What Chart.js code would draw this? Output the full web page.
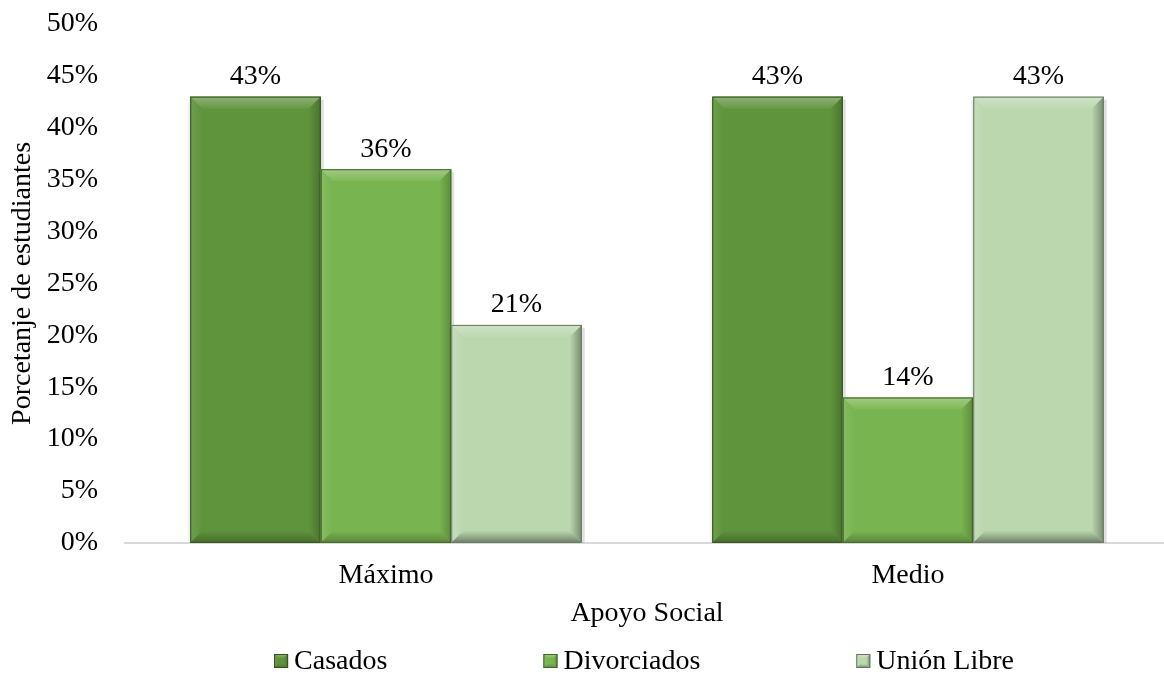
<!DOCTYPE html>
<html>
<head>
<meta charset="utf-8">
<script src="https://cdn.jsdelivr.net/npm/chart.js@4.4.1/dist/chart.umd.min.js"></script>
<style>
  html, body { margin: 0; padding: 0; background: #fff; overflow: hidden; }
  #wrap { width: 1169px; height: 682px; }
</style>
</head>
<body>
<div id="wrap"><canvas id="chart"></canvas></div>
<script>
  const categories = ["Máximo", "Medio"];
  const casados = [43, 43];
  const divorciados = [36, 14];
  const unionLibre = [21, 43];
  const seriesNames = ["Casados", "Divorciados", "Unión Libre"];
  const yTicks = { min: 0, max: 50, step: 5 };

  const colors = ["#5f933c", "#78b44f", "#bad7ae"];
  const font = "'Liberation Serif', 'Times New Roman', serif";
  const fontSize = 28;

  // amount > 0 lighter, < 0 darker
  function shade(hex, amount) {
    const n = parseInt(hex.slice(1), 16);
    let r = (n >> 16) & 255, g = (n >> 8) & 255, b = n & 255;
    const t = amount < 0 ? 0 : 255;
    const p = Math.abs(amount);
    r = Math.round(r + (t - r) * p);
    g = Math.round(g + (t - g) * p);
    b = Math.round(b + (t - b) * p);
    return `rgb(${r},${g},${b})`;
  }

  function strip(ctx, pts, x0, y0, x1, y1, c0, c1) {
    const g = ctx.createLinearGradient(x0, y0, x1, y1);
    g.addColorStop(0, c0);
    g.addColorStop(1, c1);
    ctx.fillStyle = g;
    ctx.beginPath();
    ctx.moveTo(pts[0], pts[1]);
    for (let i = 2; i < pts.length; i += 2) ctx.lineTo(pts[i], pts[i + 1]);
    ctx.closePath();
    ctx.fill();
  }

  function bevelRect(ctx, l, t, r, bt, base, s, strong) {
    const k = strong ? 1.6 : 1;
    s = Math.min(s, (r - l) / 2, (bt - t) / 2);
    ctx.save();
    ctx.fillStyle = base;
    ctx.fillRect(l, t, r - l, bt - t);
    // top
    strip(ctx, [l, t, r, t, r - s, t + s, l + s, t + s], 0, t, 0, t + s,
      shade(base, 0.3), shade(base, 0.05));
    // left
    strip(ctx, [l, t, l + s, t + s, l + s, bt - s, l, bt], l, 0, l + s, 0,
      shade(base, 0.1 * k), base);
    // right
    strip(ctx, [r, t, r, bt, r - s, bt - s, r - s, t + s], r - s, 0, r, 0,
      base, shade(base, -0.22 * k));
    // bottom
    strip(ctx, [l, bt, r, bt, r - s, bt - s, l + s, bt - s], 0, bt - s, 0, bt,
      base, shade(base, -0.25 * k));
    ctx.strokeStyle = shade(base, -0.45);
    ctx.lineWidth = 1;
    ctx.strokeRect(l + 0.5, t + 0.5, r - l - 1, bt - t - 1);
    ctx.restore();
  }

  const bevelPlugin = {
    id: "bevel",
    afterDatasetsDraw(chart) {
      const ctx = chart.ctx;
      chart.data.datasets.forEach((ds, di) => {
        chart.getDatasetMeta(di).data.forEach((bar) => {
          const { x, y, base, width } = bar.getProps(["x", "y", "base", "width"], true);
          // soft shadow round the bar
          ctx.save();
          ctx.fillStyle = "rgba(0,0,0,0.12)";
          ctx.fillRect(x + width / 2, y + 3, 3, base - y - 3);
          ctx.fillStyle = "rgba(0,0,0,0.06)";
          ctx.fillRect(x - width / 2 - 2, y + 3, 2, base - y - 3);
          ctx.restore();
          bevelRect(ctx, x - width / 2, y, x + width / 2, base, ds.backgroundColor, 12, di === 2);
        });
      });
    }
  };

  const valueLabels = {
    id: "valueLabels",
    afterDatasetsDraw(chart) {
      const ctx = chart.ctx;
      ctx.save();
      ctx.font = `${fontSize}px ${font}`;
      ctx.fillStyle = "#000";
      ctx.textAlign = "center";
      ctx.textBaseline = "bottom";
      chart.data.datasets.forEach((ds, di) => {
        chart.getDatasetMeta(di).data.forEach((bar, i) => {
          ctx.fillText(ds.data[i] + "%", bar.x, bar.y - 6);
        });
      });
      ctx.restore();
    }
  };

  // legend drawn by hand so the item gap can be wide without a tall legend box
  const legendPlugin = {
    id: "wideLegend",
    afterDraw(chart) {
      const ctx = chart.ctx;
      const box = 14, textGap = 6, itemGap = 156;
      ctx.save();
      ctx.font = `${fontSize}px ${font}`;
      ctx.textBaseline = "middle";
      const widths = chart.data.datasets.map((ds) => box + textGap + ctx.measureText(ds.label).width);
      const total = widths.reduce((a, b) => a + b, 0) + itemGap * (widths.length - 1);
      const cx = (chart.chartArea.left + chart.chartArea.right) / 2;
      let x = cx - total / 2 - 3;
      const y = chart.height - 21;
      chart.data.datasets.forEach((ds, i) => {
        bevelRect(ctx, x, y - box / 2, x + box, y + box / 2, ds.backgroundColor, 4, i === 2);
        ctx.fillStyle = "#000";
        ctx.fillText(ds.label, x + box + textGap, y + 1);
        x += widths[i] + itemGap;
      });
      ctx.restore();
    }
  };

  const seriesData = [casados, divorciados, unionLibre];

  new Chart(document.getElementById("chart"), {
    type: "bar",
    data: {
      labels: categories,
      datasets: seriesNames.map((name, i) => ({
        label: name,
        data: seriesData[i],
        backgroundColor: colors[i],
        borderWidth: 0,
        categoryPercentage: 0.75,
        barPercentage: 1
      }))
    },
    options: {
      responsive: true,
      maintainAspectRatio: false,
      animation: false,
      layout: { padding: { left: 6, right: 0, top: 24, bottom: 52 } },
      scales: {
        x: {
          grid: { display: false, drawTicks: false },
          border: { display: true, color: "#d9d9d9", width: 2 },
          ticks: { color: "#000", font: { family: font, size: fontSize }, padding: 16 },
          title: { display: true, text: "Apoyo Social", color: "#000", font: { family: font, size: fontSize }, padding: { top: -12, bottom: 0 } }
        },
        y: {
          min: yTicks.min,
          max: yTicks.max,
          afterFit(scale) {
            scale.width = 119;
            scale.paddingTop = 0;
            scale.paddingBottom = 0;
          },
          grid: { display: false, drawTicks: false },
          border: { display: false },
          ticks: {
            stepSize: yTicks.step,
            color: "#000",
            font: { family: font, size: fontSize },
            padding: 27,
            callback: (v) => v + "%"
          },
          title: { display: true, text: "Porcetanje de estudiantes", color: "#000", font: { family: font, size: fontSize }, padding: { top: 0, bottom: 4 } }
        }
      },
      plugins: {
        legend: { display: false },
        tooltip: { enabled: false }
      }
    },
    plugins: [bevelPlugin, valueLabels, legendPlugin]
  });
</script>
</body>
</html>
